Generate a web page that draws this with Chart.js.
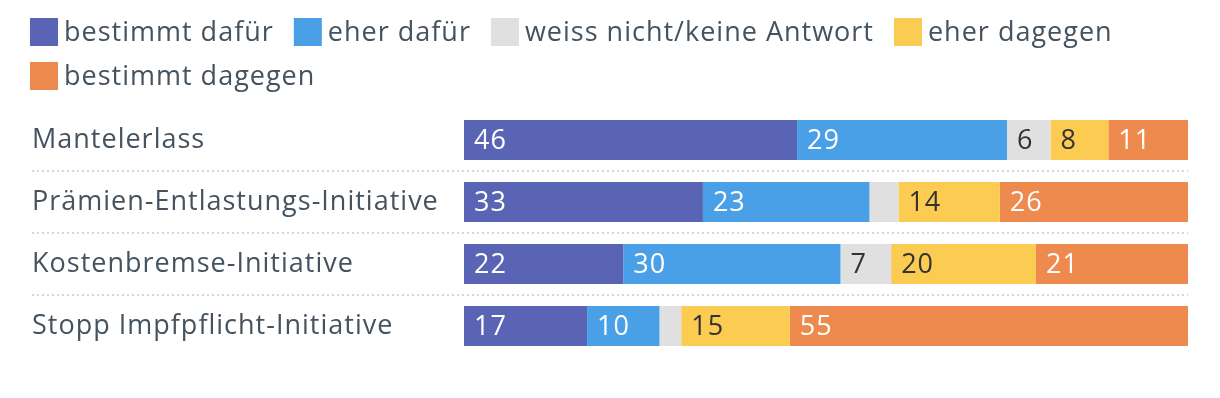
<!DOCTYPE html>
<html><head><meta charset="utf-8">
<script src="https://cdn.jsdelivr.net/npm/chart.js@4.4.1/dist/chart.umd.min.js"></script>
<style>
html,body{margin:0;padding:0;background:#fff;}
#wrap{position:relative;width:1220px;height:398px;}
</style></head>
<body>
<div id="wrap"><canvas id="c"></canvas></div>
<script>
const categories = ['Mantelerlass', 'Prämien-Entlastungs-Initiative', 'Kostenbremse-Initiative', 'Stopp Impfpflicht-Initiative'];
const seriesNames = ['bestimmt dafür', 'eher dafür', 'weiss nicht/keine Antwort', 'eher dagegen', 'bestimmt dagegen'];
const bestimmtDafuer = [46, 33, 22, 17];
const eherDafuer = [29, 23, 30, 10];
const weissNicht = [6, 4, 7, 3];
const eherDagegen = [8, 14, 20, 15];
const bestimmtDagegen = [11, 26, 21, 55];

const colors = ['#5a64b4', '#4aa0e6', '#e0e0e0', '#fccb52', '#ee8a4e'];
const labelColors = ['#ffffff', '#ffffff', '#333333', '#333333', '#ffffff'];
const FONT = '"Open Sans", sans-serif';
const FS = 27;
const LS = '1px';
const TEXT = '#44535f';

const spacingPlugin = {
  id: 'spacing',
  beforeDraw(chart) { chart.ctx.letterSpacing = LS; }
};

const legendPlugin = {
  id: 'customLegend',
  afterDraw(chart) {
    const ctx = chart.ctx;
    ctx.save();
    ctx.letterSpacing = LS;
    ctx.font = FS + 'px ' + FONT;
    ctx.textBaseline = 'middle';
    ctx.textAlign = 'left';
    let x = 30, y = 18;
    const maxX = 1190;
    chart.data.datasets.forEach((ds) => {
      const tw = ctx.measureText(ds.label).width;
      const w = 28 + 6 + tw;
      if (x + w > maxX) { x = 30; y += 43.5; }
      ctx.fillStyle = ds.backgroundColor;
      ctx.fillRect(x, Math.round(y), 28, 28);
      ctx.fillStyle = TEXT;
      ctx.fillText(ds.label, x + 34, Math.round(y) + 15);
      x += w + 20;
    });
    ctx.restore();
  }
};

const separatorPlugin = {
  id: 'separators',
  beforeDatasetsDraw(chart) {
    const ctx = chart.ctx, ys = chart.scales.y;
    ctx.save();
    ctx.strokeStyle = '#d6d6d6';
    ctx.lineWidth = 2;
    ctx.setLineDash([2, 3]);
    for (let i = 0; i < categories.length - 1; i++) {
      const yy = Math.round((ys.getPixelForValue(i) + ys.getPixelForValue(i + 1)) / 2);
      ctx.beginPath();
      ctx.moveTo(32, yy);
      ctx.lineTo(chart.chartArea.right, yy);
      ctx.stroke();
    }
    ctx.restore();
  }
};

const valueLabelPlugin = {
  id: 'valueLabels',
  afterDatasetsDraw(chart) {
    const ctx = chart.ctx;
    ctx.save();
    ctx.letterSpacing = LS;
    ctx.font = FS + 'px ' + FONT;
    ctx.textBaseline = 'middle';
    ctx.textAlign = 'left';
    chart.data.datasets.forEach((ds, di) => {
      const meta = chart.getDatasetMeta(di);
      meta.data.forEach((bar, i) => {
        const v = ds.data[i];
        if (v < 5) return;
        const left = Math.min(bar.x, bar.base);
        ctx.fillStyle = labelColors[di];
        ctx.fillText(String(v), left + 10, bar.y + 1);
      });
    });
    ctx.restore();
  }
};

const seriesData = [bestimmtDafuer, eherDafuer, weissNicht, eherDagegen, bestimmtDagegen];

new Chart(document.getElementById('c'), {
  type: 'bar',
  data: {
    labels: categories,
    datasets: seriesNames.map((n, i) => ({
      label: n,
      data: seriesData[i],
      backgroundColor: colors[i],
      borderWidth: 0,
      barPercentage: 40 / 62,
      categoryPercentage: 1
    }))
  },
  options: {
    indexAxis: 'y',
    responsive: true,
    maintainAspectRatio: false,
    animation: false,
    layout: { padding: { top: 109, left: 32, right: 32, bottom: 41 } },
    plugins: { legend: { display: false }, tooltip: { enabled: false } },
    scales: {
      x: { stacked: true, min: 0, max: 100, display: false },
      y: {
        stacked: true,
        grid: { display: false },
        border: { display: false },
        afterFit(scale) { scale.width = 432; },
        ticks: { crossAlign: 'far', color: TEXT, font: { family: FONT, size: FS }, padding: 0 }
      }
    }
  },
  plugins: [spacingPlugin, legendPlugin, separatorPlugin, valueLabelPlugin]
});
</script>
</body></html>
